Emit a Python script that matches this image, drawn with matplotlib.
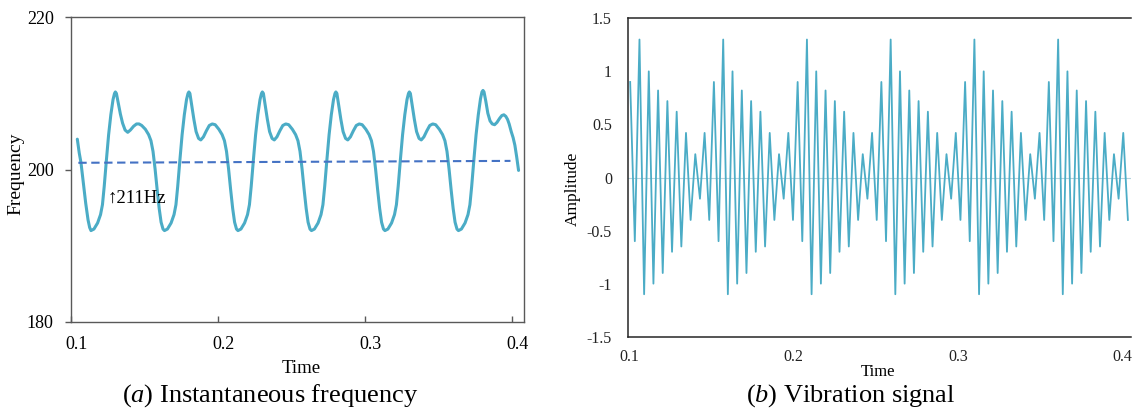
import numpy as np
import matplotlib
matplotlib.use("Agg")
import matplotlib.pyplot as plt
from matplotlib.transforms import ScaledTranslation

plt.rcParams['font.family'] = ['Liberation Serif', 'DejaVu Serif']
plt.rcParams['mathtext.fontset'] = 'custom'
plt.rcParams['mathtext.rm'] = 'Liberation Serif'
plt.rcParams['mathtext.it'] = 'Liberation Serif:italic'

# (a) instantaneous frequency
t_a = [
    0.1043, 0.1056, 0.1068, 0.1084, 0.1100, 0.1116, 0.1127,
    # cycle 1
    0.1136, 0.1156, 0.1181, 0.1201, 0.1214, 0.1226, 0.1241, 0.1256, 0.1271, 0.1286, 0.1296,
    0.1302, 0.1309, 0.1322, 0.1336, 0.1351, 0.1368, 0.1386, 0.1404, 0.1426, 0.1446, 0.1463,
    0.1481, 0.1506, 0.1528, 0.1544, 0.1558, 0.1572, 0.1586, 0.1600, 0.1613, 0.1626,
    # cycle 2
    0.1636, 0.1656, 0.1681, 0.1701, 0.1714, 0.1726, 0.1741, 0.1756, 0.1771, 0.1786, 0.1796,
    0.1802, 0.1809, 0.1822, 0.1836, 0.1851, 0.1868, 0.1883, 0.1901, 0.1921, 0.1941, 0.1961,
    0.1981, 0.2006, 0.2028, 0.2044, 0.2058, 0.2072, 0.2086, 0.2100, 0.2113, 0.2126,
    # cycle 3
    0.2136, 0.2156, 0.2181, 0.2201, 0.2214, 0.2226, 0.2241, 0.2256, 0.2271, 0.2286, 0.2296,
    0.2302, 0.2309, 0.2322, 0.2336, 0.2351, 0.2368, 0.2383, 0.2401, 0.2421, 0.2441, 0.2461,
    0.2481, 0.2506, 0.2528, 0.2544, 0.2558, 0.2572, 0.2586, 0.2600, 0.2613, 0.2626,
    # cycle 4
    0.2636, 0.2656, 0.2681, 0.2701, 0.2714, 0.2726, 0.2741, 0.2756, 0.2771, 0.2786, 0.2796,
    0.2802, 0.2809, 0.2822, 0.2836, 0.2851, 0.2868, 0.2883, 0.2901, 0.2921, 0.2941, 0.2961,
    0.2981, 0.3006, 0.3028, 0.3044, 0.3058, 0.3072, 0.3086, 0.3100, 0.3113, 0.3126,
    # cycle 5
    0.3136, 0.3156, 0.3181, 0.3201, 0.3214, 0.3226, 0.3241, 0.3256, 0.3271, 0.3286, 0.3296,
    0.3302, 0.3309, 0.3322, 0.3336, 0.3351, 0.3368, 0.3383, 0.3401, 0.3421, 0.3441, 0.3461,
    0.3481, 0.3506, 0.3528, 0.3544, 0.3558, 0.3572, 0.3586, 0.3600, 0.3613, 0.3626,
    # cycle 6
    0.3636, 0.3656, 0.3681, 0.3701, 0.3714, 0.3726, 0.3741, 0.3756, 0.3771, 0.3786, 0.3796,
    0.3803, 0.3810, 0.3822, 0.3836, 0.3851, 0.3866, 0.3882, 0.3898, 0.3915, 0.3931, 0.3945,
    0.3958, 0.3970, 0.3981, 0.3995, 0.4008, 0.4020, 0.4032, 0.4045,
]
f_a = [
    204.0, 202.2, 200.9, 198.2, 195.6, 193.4, 192.4,
    192.0, 192.2, 193.0, 194.1, 195.4, 197.8, 201.3, 204.6, 207.2, 209.2, 210.0,
    210.2, 210.0, 208.7, 207.3, 206.1, 205.2, 204.9, 205.2, 205.7, 206.0, 206.0,
    205.8, 205.3, 204.6, 203.8, 202.4, 200.1, 197.4, 194.9, 193.1, 192.2,
    192.0, 192.2, 193.0, 194.1, 195.4, 197.8, 201.3, 204.6, 207.2, 209.2, 210.0,
    210.2, 210.0, 208.4, 206.6, 205.0, 204.1, 203.9, 204.3, 205.1, 205.8, 206.0,
    205.9, 205.3, 204.6, 203.8, 202.4, 200.1, 197.4, 194.9, 193.1, 192.2,
    192.0, 192.2, 193.0, 194.1, 195.4, 197.8, 201.3, 204.6, 207.2, 209.2, 210.0,
    210.2, 210.0, 208.4, 206.6, 205.0, 204.1, 203.9, 204.3, 205.1, 205.8, 206.0,
    205.9, 205.3, 204.6, 203.8, 202.4, 200.1, 197.4, 194.9, 193.1, 192.2,
    192.0, 192.2, 193.0, 194.1, 195.4, 197.8, 201.3, 204.6, 207.2, 209.2, 210.0,
    210.2, 210.0, 208.4, 206.6, 205.0, 204.1, 203.9, 204.3, 205.1, 205.8, 206.0,
    205.9, 205.3, 204.6, 203.8, 202.4, 200.1, 197.4, 194.9, 193.1, 192.2,
    192.0, 192.2, 193.0, 194.1, 195.4, 197.8, 201.3, 204.6, 207.2, 209.2, 210.0,
    210.2, 210.0, 208.4, 206.6, 205.0, 204.1, 203.9, 204.3, 205.1, 205.8, 206.0,
    205.9, 205.3, 204.6, 203.8, 202.4, 200.1, 197.4, 194.9, 193.1, 192.2,
    192.0, 192.2, 193.0, 194.1, 195.4, 197.8, 201.3, 204.6, 207.2, 209.3, 210.2,
    210.4, 210.2, 209.0, 207.4, 206.4, 206.0, 205.9, 206.2, 206.7, 207.1, 207.2,
    207.0, 206.6, 206.0, 205.0, 204.2, 203.2, 201.7, 199.9,
]

# mean frequency (dashed)
t_mean = [0.105, 0.399]
f_mean = [200.9, 201.15]

# (b) vibration signal samples, six identical-looking cycles
amp_b = [
    0.9, -0.6, 1.3, -1.1, 1.0, -1.0, 0.82, -0.9, 0.72, -0.7, 0.62, -0.65, 0.42, -0.4, 0.22, -0.2, 0.42, -0.4,
    0.9, -0.6, 1.3, -1.1, 1.0, -1.0, 0.82, -0.9, 0.72, -0.7, 0.62, -0.65, 0.42, -0.4, 0.22, -0.2, 0.42, -0.4,
    0.9, -0.6, 1.3, -1.1, 1.0, -1.0, 0.82, -0.9, 0.72, -0.7, 0.62, -0.65, 0.42, -0.4, 0.22, -0.2, 0.42, -0.4,
    0.9, -0.6, 1.3, -1.1, 1.0, -1.0, 0.82, -0.9, 0.72, -0.7, 0.62, -0.65, 0.42, -0.4, 0.22, -0.2, 0.42, -0.4,
    0.9, -0.6, 1.3, -1.1, 1.0, -1.0, 0.82, -0.9, 0.72, -0.7, 0.62, -0.65, 0.42, -0.4, 0.22, -0.2, 0.42, -0.4,
    0.9, -0.6, 1.3, -1.1, 1.0, -1.0, 0.82, -0.9, 0.72, -0.7, 0.62, -0.65, 0.42, -0.4, 0.22, -0.2, 0.42, -0.4,
]
t_b = np.linspace(0.1007, 0.4035, len(amp_b))

x_ticks = [0.1, 0.2, 0.3, 0.4]
x_ticklabels = ['0.1', '0.2', '0.3', '0.4']
ya_ticks = [180, 200, 220]
yb_ticks = [-1.5, -1, -0.5, 0, 0.5, 1, 1.5]
yb_ticklabels = ['-1.5', '-1', '-0.5', '0', '0.5', '1', '1.5']

W, H = 1132, 409
line_col = '#4bacc6'
fig = plt.figure(figsize=(W / 100, H / 100), dpi=100)

# ---- left panel
ax1 = fig.add_axes([71 / W, 1 - 322 / H, 453 / W, 304.7 / H])
ax1.plot(t_a, f_a, color=line_col, lw=2.2, solid_capstyle='round', zorder=3)
ax1.plot(t_mean, f_mean, color='#4472c4', lw=1.5, dashes=(4, 2.2), zorder=4)
ax1.text(0.1251, 195.6, '\u2191211Hz', fontsize=13.5, ha='left', va='baseline')
ax1.set_xlim(0.1, 0.4082)
ax1.set_ylim(180, 220)
ax1.set_xticks(x_ticks)
ax1.set_xticklabels(x_ticklabels)
ax1.set_yticks(ya_ticks)
for s in ax1.spines.values():
    s.set_color('#595959')
    s.set_linewidth(1.0)
ax1.tick_params(axis='x', direction='in', length=4, width=1, color='#595959', pad=10, labelsize=13)
ax1.tick_params(axis='y', direction='out', length=4, width=1, color='#595959', pad=8.5, labelsize=13)
off = ScaledTranslation(6 / 100, 0, fig.dpi_scale_trans)
for lab in ax1.get_xticklabels():
    lab.set_transform(lab.get_transform() + off)

fig.text(16 / W, 1 - 174 / H, 'Frequency', rotation=90, fontsize=14, ha='center', va='center')
fig.text(301 / W, 1 - 373 / H, 'Time', fontsize=13.5, ha='center', va='baseline')
fig.text(270 / W, 1 - 402 / H, r'($\it{a}$) Instantaneous frequency', fontsize=19, ha='center', va='baseline')

# ---- right panel
ax2 = fig.add_axes([627.7 / W, 1 - 336.7 / H, 503.5 / W, 318.4 / H])
ax2.axhline(0, color='#b5d3dc', lw=0.8, zorder=1)
ax2.plot(t_b, amp_b, color=line_col, lw=1.3, zorder=3)
ax2.set_xlim(0.0992, 0.4055)
ax2.set_ylim(-1.5, 1.5)
ax2.set_xticks(x_ticks)
ax2.set_xticklabels(x_ticklabels)
ax2.set_yticks(yb_ticks)
ax2.set_yticklabels(yb_ticklabels)
for s in ax2.spines.values():
    s.set_color('#262626')
    s.set_linewidth(1.1)
ax2.spines['right'].set_visible(False)
ax2.tick_params(axis='both', length=0, labelsize=11.5, labelcolor='#222222')
ax2.tick_params(axis='x', pad=9)
ax2.tick_params(axis='y', pad=11.3)

fig.text(573 / W, 1 - 189 / H, 'Amplitude', rotation=90, fontsize=12.5, ha='center', va='center')
fig.text(878 / W, 1 - 375.5 / H, 'Time', fontsize=12, ha='center', va='baseline')
fig.text(851 / W, 1 - 402 / H, r'($\it{b}$) Vibration signal', fontsize=19, ha='center', va='baseline')

fig.savefig('out.png', dpi=100)
